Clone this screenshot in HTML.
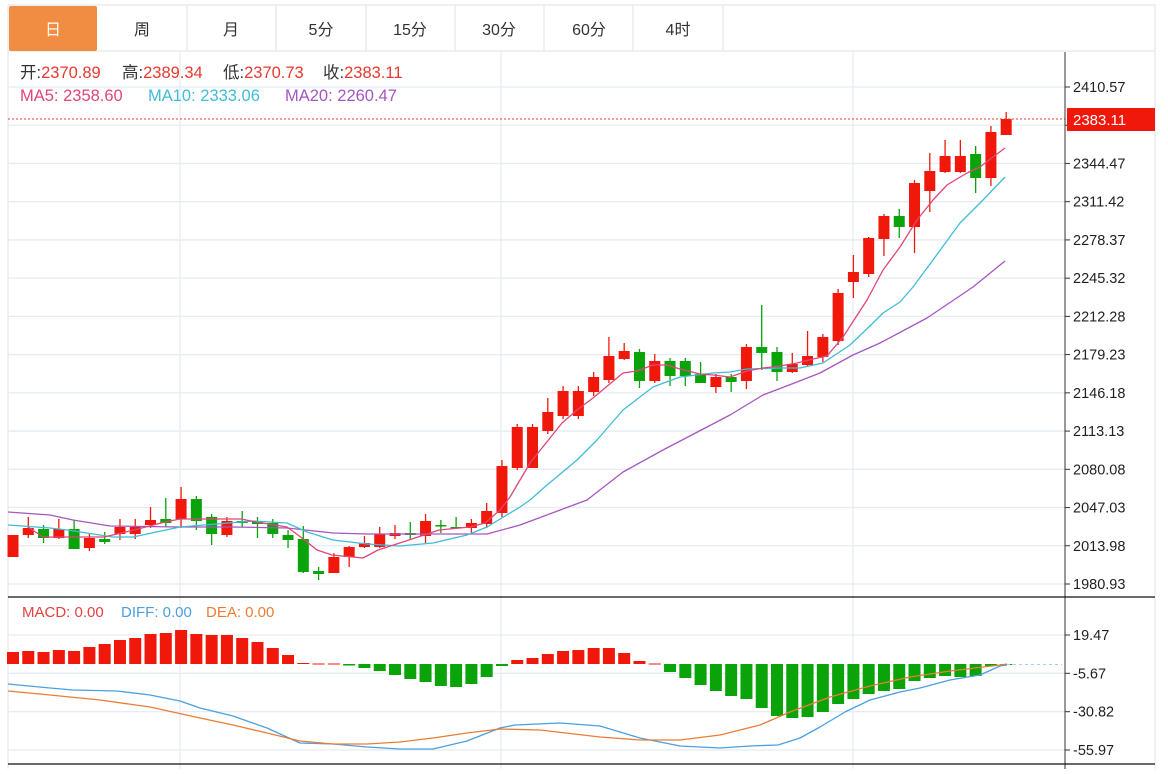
<!DOCTYPE html>
<html><head><meta charset="utf-8"><style>
body{margin:0;background:#fff;width:1168px;height:769px;overflow:hidden;font-family:"Liberation Sans","Noto Sans CJK SC",sans-serif}
svg text{font-family:"Liberation Sans","Noto Sans CJK SC",sans-serif}
</style></head><body>
<svg id="s" width="1168" height="769" xmlns="http://www.w3.org/2000/svg">
<rect x="0" y="0" width="1168" height="769" fill="#fff"/>
<line x1="8" y1="5" x2="1155" y2="5" stroke="#e2e2e2"/>
<line x1="8" y1="51" x2="1155" y2="51" stroke="#e2e2e2"/>
<rect x="9" y="6" width="88" height="45" rx="2" fill="#f18d43"/>
<g stroke="#e2e2e2"><line x1="187" y1="5" x2="187" y2="51"/><line x1="276" y1="5" x2="276" y2="51"/><line x1="366" y1="5" x2="366" y2="51"/><line x1="455" y1="5" x2="455" y2="51"/><line x1="544" y1="5" x2="544" y2="51"/><line x1="633" y1="5" x2="633" y2="51"/><line x1="723" y1="5" x2="723" y2="51"/><line x1="1155" y1="5" x2="1155" y2="769"/><line x1="8" y1="5" x2="8" y2="769"/></g>
<g font-size="16" text-anchor="middle" fill="#333">
<text x="53" y="35" fill="#fff">日</text><text x="142" y="35">周</text><text x="231" y="35">月</text><text x="321" y="35">5分</text><text x="410" y="35">15分</text><text x="499" y="35">30分</text><text x="589" y="35">60分</text><text x="678" y="35">4时</text>
</g>
<g id="grid" stroke="#e6ecf1" stroke-width="1.3"></g>
<g stroke="#e6ecf1" stroke-width="1.3"><line x1="180" y1="52" x2="180" y2="769"/><line x1="501" y1="52" x2="501" y2="769"/><line x1="853" y1="52" x2="853" y2="769"/></g>
<g id="c"></g>
<line x1="8" y1="119" x2="1065" y2="119" stroke="#e8392f" stroke-dasharray="2,2"/>
<line x1="1065" y1="52" x2="1065" y2="769" stroke="#333"/>
<line x1="8" y1="597" x2="1155" y2="597" stroke="#111" stroke-width="1.3"/>
<line x1="8" y1="764" x2="1155" y2="764" stroke="#111" stroke-width="1.3"/>
<line x1="1007" y1="664.5" x2="1062" y2="664.5" stroke="#9fd3ea" stroke-dasharray="3,3"/>
<g id="ax" font-size="14.5" fill="#222"></g>
<rect x="1067" y="108" width="88" height="23" fill="#f0180a"/>
<text x="1073" y="125" font-size="15" fill="#fff">2383.11</text>
<g font-size="16.5">
<text x="20" y="78" fill="#333">开:<tspan fill="#e8392f">2370.89</tspan><tspan x="122">高:</tspan><tspan fill="#e8392f">2389.34</tspan><tspan x="223">低:</tspan><tspan fill="#e8392f">2370.73</tspan><tspan x="323">收:</tspan><tspan fill="#e8392f">2383.11</tspan></text>
<text x="20" y="101" fill="#e0457b">MA5: 2358.60<tspan x="148" fill="#3fbcd6">MA10: 2333.06</tspan><tspan x="285" fill="#a656c0">MA20: 2260.47</tspan></text>
<text x="22" y="617" font-size="15" fill="#e34141">MACD: 0.00<tspan x="121" fill="#4aa0e0">DIFF: 0.00</tspan><tspan x="206" fill="#ea7d35">DEA: 0.00</tspan></text>
</g>
</svg>
<script>
var NS="http://www.w3.org/2000/svg",s=document.getElementById('s');
function el(p,t,a){var e=document.createElementNS(NS,t);for(var k in a)e.setAttribute(k,a[k]);p.appendChild(e);return e;}
var g=document.getElementById('grid'),ax=document.getElementById('ax'),c=document.getElementById('c');
var ticks=["2410.57","2377.52","2344.47","2311.42","2278.37","2245.32","2212.28","2179.23","2146.18","2113.13","2080.08","2047.03","2013.98","1980.93"];
ticks.forEach(function(t,i){var y=87+38.23*i;el(g,'line',{x1:8,y1:y,x2:1065,y2:y});el(ax,'line',{x1:1065,y1:y,x2:1070,y2:y,stroke:'#333'});if(i!=1){var e=el(ax,'text',{x:1073,y:y+5});e.textContent=t;}});
[["19.47",635],["-5.67",673.3],["-30.82",711.7],["-55.97",750]].forEach(function(a){el(g,'line',{x1:8,y1:a[1],x2:1065,y2:a[1]});el(ax,'line',{x1:1065,y1:a[1],x2:1070,y2:a[1],stroke:'#333'});var e=el(ax,'text',{x:1073,y:a[1]+5});e.textContent=a[0];});
var R='#f0180a',G='#0aa30a';
var cd=[[535,557,535,557,R],[528,535,517,538,R],[529,538,525,543,G],[529,538,519,539,R],[529,549,520,549,G],[538,548,533,551,R],[539,542,532,544,G],[527,534,519,540,R],[527,534,519,539,R],[520,525,507,528,R],[519,523,498,527,G],[499,519,487,528,R],[499,521,496,530,G],[517,534,514,545,G],[521,535,517,537,R],[521,523,511,527,G],[522,524,517,538,G],[523,534,519,538,G],[535,540,530,548,G],[539,572,526,573,G],[571,574,567,580,G],[557,573,553,573,R],[547,557,546,567,R],[543,547,536,548,R],[534,547,527,548,R],[533,536,525,539,R],[533,535,522,539,G],[521,536,514,543,R],[525,526.5,520,533,G],[527,528.5,517,529,G],[523,528,519,533,R],[511,524,503,528,R],[466,513,460,517,R],[427,468,424,470,R],[427,468,424,468,R],[412,431,398,434,R],[391,416,386,419,R],[391,416,386,419,R],[377,392,372,396,R],[356,380,337,383,R],[351,359,343,360,R],[352,381,349,388,G],[361,381,354,383,R],[361,376,358,386,G],[361,376,358,386,G],[374,383,362,383,G],[377,387,374,393,R],[377,382,374,392,G],[347,381,344,389,R],[347,353,305,370,G],[352,372,347,381,G],[364,372,353,373,R],[356,365,331,367,R],[337,357,334,362,R],[293,341,289,345,R],[272,282,255,298,R],[238,274,237,277,R],[216,239,214,256,R],[216,227,209,238,G],[183,227,180,253,R],[171,191,153,212,R],[156,172,140,173,R],[156,172,140,173,R],[154,178,146,193,G],[132,178,126,186,R],[119,135,112,135,R]];
var mb=[652,651,652,650,651,647,644,640,638,634,633,630,634,635,635,638,642,648,655,663,663.5,663.5,665.5,668,671,675,679,682,686,687,684,677,666,660,658,654,651,650,648,648,653,661,663.5,672,678,685,691,696,699,708,716,718,717,712,704,699,694,691,689,681,678,676,677,676,666,665];
var Z=664;
cd.forEach(function(d,i){var x=13+15.28*i;el(c,'line',{x1:x,y1:d[2],x2:x,y2:d[3],stroke:d[4],'stroke-width':1.3});el(c,'rect',{x:x-5.5,y:d[0],width:11,height:Math.max(1.5,d[1]-d[0]),fill:d[4]});
var v=mb[i],col=v<Z?R:G;if(i==20||i==21||i==42)col=R;if(i==22)col=G;el(c,'rect',{x:x-6,y:Math.min(v,Z),width:12,height:Math.max(1,Math.abs(v-Z)),fill:col});});
function pl(pts,col,w){el(c,'polyline',{points:pts,fill:'none',stroke:col,'stroke-width':w||1.3,'stroke-linejoin':'round'});}
pl("8,512 50,515 73,520 110,526 180,527 233,527 287,528 333,533 367,534 433,534 487,534 520,525 587,500 623,472 663,450 730,415 763,395 797,382 820,373 853,355 880,343 927,318 973,287 1005,261",'#a656c0');
pl("8,525 50,528 67,530 113,537 133,537 180,527 253,521 287,523 307,532 333,540 367,544 400,546 433,543 467,535 487,527 520,507 530,500 547,485 577,460 597,440 623,410 653,387 680,377 713,373 730,372 747,369 780,368 800,368 823,363 850,345 873,323 883,313 900,302 913,287 933,260 960,223 983,200 1005,177",'#3fbcd6');
pl("28,527 43,537 73,537 104,537 134,530 165,522 180,519 241,519 256,522 287,527 302,538 317,550 332,555 363,558 378,550 409,540 439,530 470,527 485,523 500,510 510,497 530,463 562,423 577,410 593,398 623,373 637,371 653,365 667,365 680,369 700,374 713,375 730,377 747,371 763,368 780,366 797,363 813,359 827,356 843,337 867,300 883,270 900,247 917,220 933,200 947,185 967,173 980,167 993,157 1005,148",'#e0457b');
pl("8,684 50,688 73,690 117,691 150,695 180,701 200,708 233,716 267,728 300,743 333,744 367,747 400,749 433,749 467,741 500,728 515,725 560,723 600,726 640,738 680,746 720,748 750,746 778,745 800,738 820,727 845,712 870,700 900,692 920,688 950,680 980,675 1000,666 1007,665",'#4aa0e0');
pl("8,691 50,695 100,700 150,707 200,718 233,725 267,733 300,741 333,744 367,744 400,742 433,738 467,733 500,729 540,730 600,737 640,740 680,740 720,735 760,725 790,712 830,697 870,686 910,677 950,671 1000,665 1007,664",'#ea7d35');
</script>
</body></html>
